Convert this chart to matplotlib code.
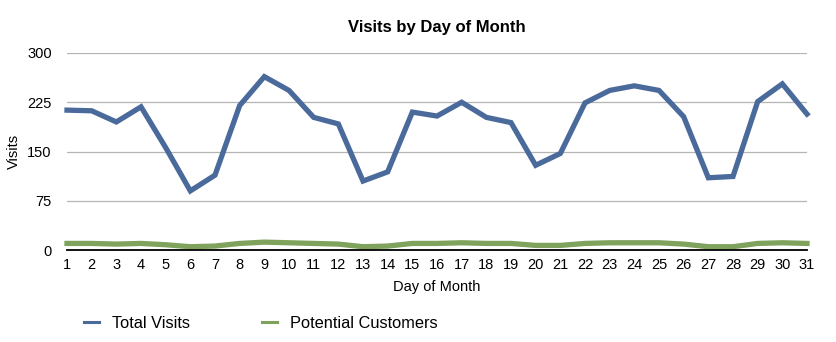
import matplotlib
matplotlib.use('Agg')
import matplotlib.pyplot as plt

plt.rcParams['font.family'] = ['Liberation Sans', 'DejaVu Sans']

# Data
days = list(range(1, 32))
total_visits = [213, 212, 195, 218, 156, 90, 114, 220, 264, 243, 202, 192, 105, 119, 210,
                204, 225, 202, 194, 129, 147, 224, 243, 250, 243, 203, 110, 112, 226, 253, 207]
potential_customers = [10, 10, 9, 10, 8, 5, 6, 10, 12, 11, 10, 9, 5, 6, 10,
                       10, 11, 10, 10, 7, 7, 10, 11, 11, 11, 9, 5, 5, 10, 11, 10]
y_ticks = [0, 75, 150, 225, 300]

blue = '#4a6a9b'
green = '#7fa25d'

fig = plt.figure(figsize=(8.36, 3.42), dpi=100)
ax = fig.add_axes([67 / 836, 92 / 342, 740 / 836, 197 / 342])

ax.plot(days, total_visits, color=blue, lw=3.8, solid_joinstyle='miter',
        label='Total Visits', clip_on=False, zorder=3)
ax.plot(days, potential_customers, color=green, lw=3.8, solid_joinstyle='miter',
        label='Potential Customers', clip_on=False, zorder=3)

ax.set_xlim(1, 31)
ax.set_ylim(0, 300)
ax.set_xticks(days)
ax.set_yticks(y_ticks)
ax.tick_params(axis='both', length=0, labelsize=10.5)
ax.tick_params(axis='x', pad=6)
ax.tick_params(axis='y', pad=11)

ax.grid(axis='y', color='#b4b4b4', lw=0.9)
ax.set_axisbelow(True)
for s in ['top', 'right', 'left']:
    ax.spines[s].set_visible(False)
ax.spines['bottom'].set_color('black')
ax.spines['bottom'].set_linewidth(1.3)
ax.spines['bottom'].set_zorder(4)

ax.set_title('Visits by Day of Month', fontsize=12, fontweight='bold', pad=15)
ax.set_xlabel('Day of Month', fontsize=10.5, va='center')
ax.xaxis.set_label_coords(0.5, (250 - 287) / 197)
ax.set_ylabel('Visits', fontsize=10.5, va='center')
ax.yaxis.set_label_coords((14 - 67) / 740, 0.5)

leg = fig.legend(loc='center left', bbox_to_anchor=(84 / 836, 19 / 342), ncol=2,
                 frameon=False, fontsize=11.8, handlelength=0.9, handletextpad=0.8,
                 columnspacing=4.4, borderpad=0, borderaxespad=0)
for h in leg.legend_handles:
    h.set_linewidth(2.2)

plt.savefig('out.png', dpi=100)
